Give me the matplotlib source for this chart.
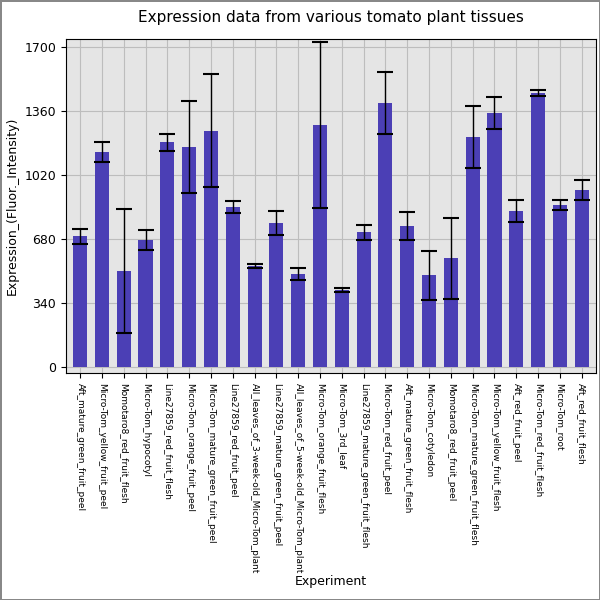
import numpy as np
import matplotlib.pyplot as plt

tissues = [
    "Aft_mature_green_fruit_peel", "Micro-Tom_yellow_fruit_peel", "Momotaro8_red_fruit_flesh",
    "Micro-Tom_hypocotyl", "Line27859_red_fruit_flesh", "Micro-Tom_orange_fruit_peel",
    "Micro-Tom_mature_green_fruit_peel", "Line27859_red_fruit_peel",
    "All_leaves_of_3-week-old_Micro-Tom_plant", "Line27859_mature_green_fruit_peel",
    "All_leaves_of_5-week-old_Micro-Tom_plant", "Micro-Tom_orange_fruit_flesh",
    "Micro-Tom_3rd_leaf", "Line27859_mature_green_fruit_flesh", "Micro-Tom_red_fruit_peel",
    "Aft_mature_green_fruit_flesh", "Micro-Tom_cotyledon", "Momotaro8_red_fruit_peel",
    "Micro-Tom_mature_green_fruit_flesh", "Micro-Tom_yellow_fruit_flesh", "Aft_red_fruit_peel",
    "Micro-Tom_red_fruit_flesh", "Micro-Tom_root", "Aft_red_fruit_flesh",
]
expression = [696, 1142, 510, 675, 1195, 1169, 1254, 850, 537, 765, 494, 1286,
              409, 717, 1402, 749, 489, 579, 1222, 1349, 829, 1456, 861, 940]
errors = [40, 55, 330, 55, 45, 245, 300, 30, 10, 65, 30, 440,
          12, 40, 165, 75, 130, 215, 165, 85, 60, 15, 28, 55]

fig = plt.figure(figsize=(6, 6), dpi=100)
ax = fig.add_axes([0.11, 0.378, 0.883, 0.557])
ax.set_facecolor('#e5e5e5')
x = np.arange(len(tissues))
ax.bar(x, expression, width=0.65, color='#4b3fb5', zorder=2)
ax.errorbar(x, expression, yerr=errors, fmt='none', ecolor='black', elinewidth=1,
            capsize=6, capthick=1.5, zorder=3)
ax.set_xticks(x)
ax.set_xticklabels(tissues, rotation=-90, fontsize=6.5)
ax.set_yticks([0, 340, 680, 1020, 1360, 1700])
ax.tick_params(axis='y', labelsize=9)
ax.set_xlim(-0.65, 23.65)
ax.set_ylim(-32, 1742)
ax.grid(True, color='#bdbdbd', linewidth=0.8, zorder=0)
ax.set_axisbelow(True)
ax.set_ylabel('Expression_(Fluor._Intensity)', fontsize=9)
ax.set_xlabel('Experiment', fontsize=9, labelpad=1)
ax.set_title('Expression data from various tomato plant tissues', fontsize=11, pad=12)
fig.patch.set_edgecolor('#888888')
fig.patch.set_linewidth(1)
fig.savefig('out.png', dpi=100, edgecolor=fig.get_edgecolor())
